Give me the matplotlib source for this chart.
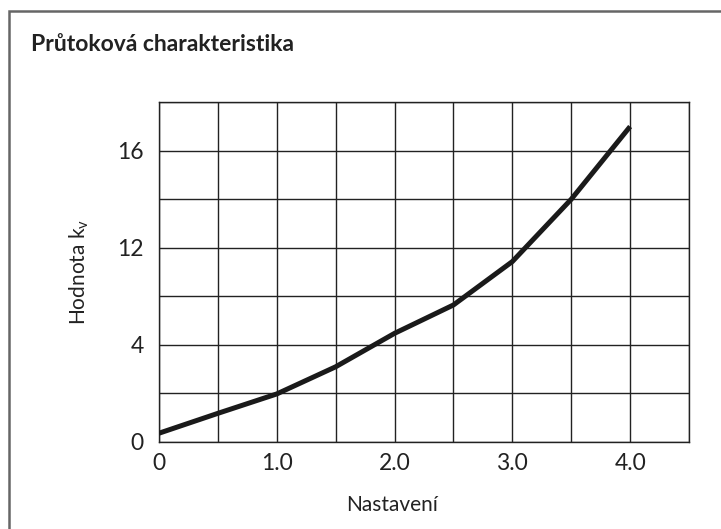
import numpy as np
import matplotlib
matplotlib.use('Agg')
from matplotlib import pyplot as plt
from matplotlib.patches import Rectangle

plt.rcParams['font.family'] = ['Lato', 'DejaVu Sans']

# settings and flow values (y in grid units of the drawn scale)
nastaveni = [0, 0.5, 1.0, 1.5, 2.0, 2.5, 3.0, 3.5, 4.0]
hodnota = [0.35, 1.17, 1.97, 3.09, 4.47, 5.64, 7.43, 10.0, 13.0]

x_ticks = [0, 0.5, 1.0, 1.5, 2.0, 2.5, 3.0, 3.5, 4.0, 4.5]
x_labels = ['0', '', '1.0', '', '2.0', '', '3.0', '', '4.0', '']
y_ticks = [0, 2, 4, 6, 8, 10, 12, 14]
y_labels = ['0', '', '4', '', '12', '', '16', '']

fig = plt.figure(figsize=(7.21, 5.29), dpi=100)
fig.patches.append(Rectangle((9 / 721, -0.1), 1.2, 1.1 - 10.5 / 529, transform=fig.transFigure,
                             fill=False, edgecolor='#666666', linewidth=1.8))
fig.text(31 / 721, 1 - 51 / 529, 'Průtoková charakteristika', fontsize=16.5, fontweight='bold',
         color='#222222', va='baseline', ha='left')

ax = fig.add_axes([159 / 721, 1 - 441.7 / 529, 530 / 721, 339.4 / 529])
ax.plot(nastaveni, hodnota, color='#1a1a1a', linewidth=3.6, solid_capstyle='butt', zorder=3)

ax.set_xlim(0, 4.5)
ax.set_ylim(0, 14)
ax.set_xticks(x_ticks)
ax.set_xticklabels(x_labels)
ax.set_yticks(y_ticks)
ax.set_yticklabels(y_labels)
ax.tick_params(length=0, labelsize=16.5, colors='#222222')
ax.tick_params(axis='y', pad=11)
ax.tick_params(axis='x', pad=8)
ax.grid(True, color='#222222', linewidth=1.0)
for s in ax.spines.values():
    s.set_color('#222222')
    s.set_linewidth(1.0)

ax.set_xlabel('Nastavení', fontsize=15, color='#222222')
ax.xaxis.set_label_coords(0.44, -0.187)
ax.xaxis.label.set_va('center')
ax.set_ylabel('Hodnota k$_{\\mathregular{v}}$', fontsize=15, color='#222222')
ax.yaxis.set_label_coords(-0.151, 0.5)
ax.yaxis.label.set_va('center')

fig.savefig('out.png', dpi=100)
